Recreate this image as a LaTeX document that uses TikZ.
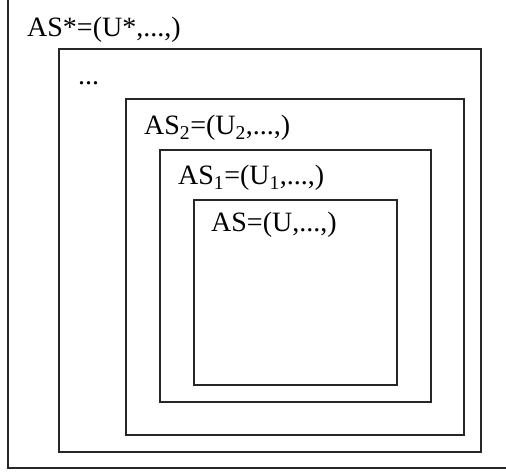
\documentclass[tikz,border=0pt]{standalone}
\usepackage{fontspec}
\setmainfont{Liberation Serif}
\begin{document}
\begin{tikzpicture}[x=1pt,y=-1pt,
  frame/.style={draw=black!85,line width=1.3pt},
  lbl/.style={anchor=base west,inner sep=0pt,font=\fontsize{28}{32}\selectfont}]
\useasboundingbox[fill=white] (0,0) rectangle (506,473);
\draw[frame] (8,0) -- (8,468) -- (506,468);
\draw[frame] (59,49) rectangle (481,452);
\draw[frame] (126,99) rectangle (464,435);
\draw[frame] (160,150) rectangle (431,402);
\draw[frame] (194,200) rectangle (397,385);
\node[lbl] (t0) at (27,37) {AS*=(U*,...,)};
\node[lbl] (t1) at (78,85) {...};
\node[lbl] (t2) at (144,135) {AS\textsubscript{2}=(U\textsubscript{2},...,)};
\node[lbl] (t3) at (178,185) {AS\textsubscript{1}=(U\textsubscript{1},...,)};
\node[lbl] (t4) at (211,232) {AS=(U,...,)};
\end{tikzpicture}
\end{document}
